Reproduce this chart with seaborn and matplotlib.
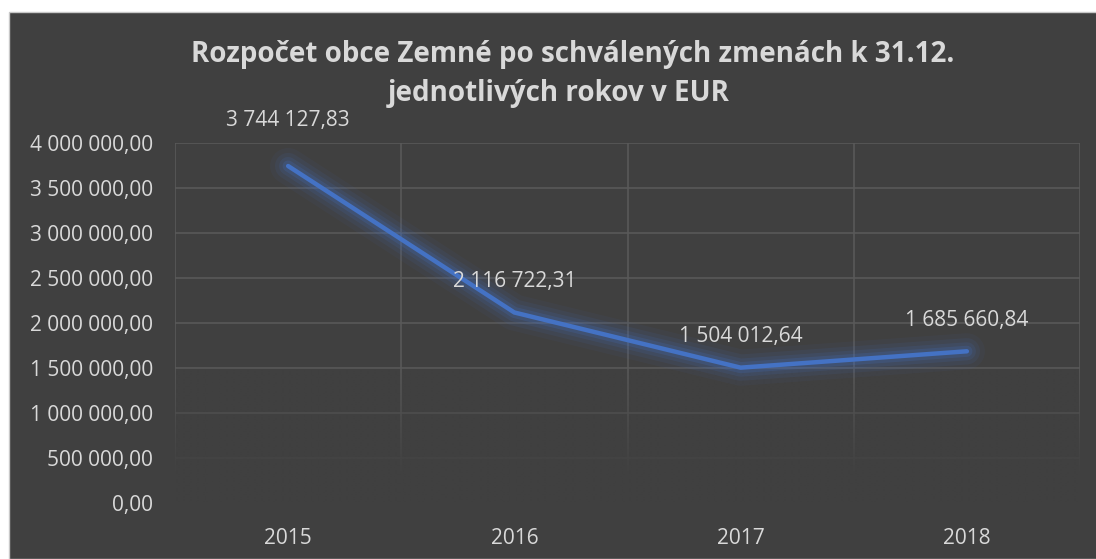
import numpy as np
import pandas as pd
import matplotlib
matplotlib.use("Agg")
import matplotlib.pyplot as plt
from matplotlib.patches import Rectangle
from matplotlib.colors import to_rgb
from matplotlib.ticker import FuncFormatter
import seaborn as sns

years = ["2015", "2016", "2017", "2018"]
budget = [3744127.83, 2116722.31, 1504012.64, 1685660.84]
title_lines = ["Rozpočet obce Zemné po schválených zmenách k 31.12.",
               "jednotlivých rokov v EUR"]

BG = "#404040"
GRID = "#595959"
TEXT = "#d9d9d9"
LINE = "#4472c4"


def fmt(v, pos=None):
    return f"{v:,.2f}".replace(",", " ").replace(".", ",")


sns.set_theme(style="dark")
plt.rcParams["font.family"] = ["Open Sans", "DejaVu Sans"]

df = pd.DataFrame({"rok": years, "rozpocet": budget})
df["x"] = np.arange(len(df))

fig = plt.figure(figsize=(10.96, 5.59), dpi=100, facecolor="white")
bg = Rectangle((9 / 1096, 0), 1, 1 - 12 / 559, transform=fig.transFigure,
               facecolor=BG, edgecolor="#c8c8c8", lw=1, zorder=-5)
fig.add_artist(bg)
ax = fig.add_axes([175 / 1096, 1 - 503 / 559, (1080 - 175) / 1096, (503 - 143) / 559])
ax.set_zorder(1)
ax.set_facecolor(BG)

ax.set_xlim(-0.5, len(df) - 0.5)
ax.set_ylim(0, 4000000)
yt = np.arange(0, 4000001, 500000)
ax.set_yticks(yt)
ax.yaxis.set_major_formatter(FuncFormatter(fmt))
ax.set_xticks(df["x"])
ax.set_xticklabels(df["rok"])
ax.grid(False)
for s in ax.spines.values():
    s.set_visible(False)

# gridlines: horizontal at ticks, vertical at category borders
for y in yt[1:]:
    ax.axhline(y, color=GRID, lw=1.2, zorder=1)
for xb in np.arange(-0.5, len(df), 1.0):
    ax.axvline(xb, color=GRID, lw=1.2, zorder=1)

# fade out the grid towards the bottom
r, g, b = to_rgb(BG)
grad = np.zeros((200, 2, 4))
grad[..., 0], grad[..., 1], grad[..., 2] = r, g, b
ys = np.linspace(0, 4000000, 200)
alpha = np.clip((1500000 - ys) / 1200000, 0, 1)
grad[..., 3] = alpha[:, None]
ax.imshow(grad, extent=[-0.5, len(df) - 0.5, 0, 4000000], origin="lower",
          aspect="auto", zorder=2, interpolation="bilinear")

# glow
for lw, a in [(26, 0.06), (19, 0.09), (13, 0.13), (8, 0.2)]:
    ax.plot(df["x"], df["rozpocet"], color=LINE, lw=lw, alpha=a, zorder=3,
            solid_capstyle="round", solid_joinstyle="round")
sns.lineplot(data=df, x="x", y="rozpocet", color=LINE, lw=3.2, ax=ax, zorder=4)
for l in ax.lines[-1:]:
    l.set_solid_capstyle("round")

ax.set_xlim(-0.5, len(df) - 0.5)
ax.set_ylim(0, 4000000)
ax.set_xlabel("")
ax.set_ylabel("")

for i, (xv, yv) in enumerate(zip(df["x"], df["rozpocet"])):
    off = 46 if i == 0 else 31
    ax.annotate(fmt(yv), (xv, yv), xytext=(0, off * 0.72), textcoords="offset points",
                ha="center", va="center", color=TEXT, fontsize=15, zorder=5,
                annotation_clip=False)

ax.tick_params(axis="y", colors=TEXT, labelsize=15, length=0, pad=16)
ax.tick_params(axis="x", colors=TEXT, labelsize=15, length=0, pad=18)

for (cx, by), line in zip([(573, 62), (559, 101)], title_lines):
    fig.text(cx / 1096, 1 - by / 559, line, ha="center", va="baseline",
             color=TEXT, fontsize=20, fontweight="bold")

fig.savefig("out.png", dpi=100, facecolor="white")
